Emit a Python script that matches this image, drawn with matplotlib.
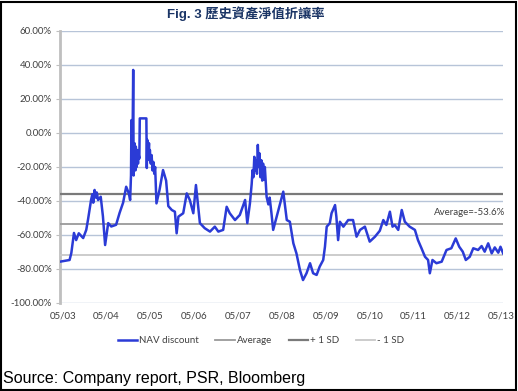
import matplotlib.pyplot as plt
from matplotlib.patches import Rectangle

# NAV discount (%), x in decimal years
years = [2003.27, 2003.49, 2003.53, 2003.59, 2003.64, 2003.70, 2003.80, 2003.87,
         2003.91, 2003.98, 2004.01, 2004.03, 2004.06, 2004.09, 2004.11, 2004.14,
         2004.20, 2004.25, 2004.30, 2004.37,
         2004.44, 2004.55, 2004.63, 2004.71, 2004.78, 2004.84, 2004.87, 2004.89,
         2004.90, 2004.92, 2004.94, 2004.95, 2004.97, 2004.99, 2005.00, 2005.02,
         2005.03, 2005.05, 2005.06, 2005.08, 2005.09, 2005.24, 2005.25, 2005.26,
         2005.28, 2005.30, 2005.31, 2005.32, 2005.34, 2005.36, 2005.38, 2005.40,
         2005.42, 2005.44, 2005.47, 2005.54, 2005.62, 2005.69, 2005.74,
         2005.82, 2005.89, 2005.93, 2005.97, 2006.08, 2006.16, 2006.23, 2006.31,
         2006.37, 2006.42, 2006.46, 2006.57, 2006.69, 2006.80, 2006.88, 2006.99,
         2007.07, 2007.14, 2007.26, 2007.37, 2007.49, 2007.54, 2007.60, 2007.64,
         2007.66, 2007.68, 2007.70, 2007.72, 2007.74, 2007.76, 2007.78, 2007.80,
         2007.82, 2007.84, 2007.86, 2007.88, 2007.90, 2007.92, 2007.94, 2007.98,
         2008.02, 2008.05, 2008.09, 2008.13,
         2008.21, 2008.28, 2008.36, 2008.44, 2008.51, 2008.59, 2008.66, 2008.74,
         2008.81, 2008.89, 2008.97, 2009.04, 2009.12, 2009.19, 2009.27, 2009.31,
         2009.35, 2009.42, 2009.46, 2009.54, 2009.57, 2009.61, 2009.65, 2009.73,
         2009.84, 2009.95, 2010.03, 2010.11, 2010.22, 2010.33, 2010.45, 2010.56,
         2010.64, 2010.71, 2010.79, 2010.85, 2010.90, 2010.98, 2011.06, 2011.13,
         2011.24, 2011.36, 2011.43, 2011.51, 2011.59, 2011.66, 2011.70, 2011.76,
         2011.85, 2011.97, 2012.08, 2012.19, 2012.29, 2012.37, 2012.45, 2012.52,
         2012.61, 2012.69, 2012.80, 2012.88, 2012.95, 2013.03, 2013.11, 2013.18,
         2013.26, 2013.31, 2013.37]
nav_discount = [-75.7, -74.7, -70.6, -58.8, -63.0, -59.0, -61.8, -57.0,
                -51.0, -39.4, -36.0, -41.0, -33.5, -38.0, -35.0, -39.4,
                -37.5, -49.0, -65.9, -53.0,
                -55.0, -54.0, -47.0, -41.0, -31.6, -35.5, -39.4, -25.0,
                7.6, -20.0, 37.1, -25.0, -6.0, -22.0, -8.0, -20.0,
                -10.0, -18.0, -12.0, -15.0, 8.6, 8.6, -20.6, -4.0,
                -14.0, -6.0, -16.0, -10.0, -18.0, -13.0, -22.0, -17.0,
                -24.0, -20.0, -41.4, -33.5, -21.8, -28.0, -43.0,
                -45.3, -46.3, -59.0, -49.2, -47.2, -35.5, -39.4, -47.2,
                -30.6, -43.4, -53.0, -56.0, -58.0, -55.1, -58.0, -57.0,
                -43.4, -47.2, -51.2, -48.2, -39.4, -53.0, -41.4, -30.0,
                -21.8, -26.0, -14.0, -22.0, -16.0, -24.0, -7.0, -20.0,
                -12.0, -26.0, -16.0, -28.0, -18.0, -27.6, -20.0, -37.5,
                -42.0, -38.0, -47.0, -57.0,
                -49.2, -42.4, -34.5, -51.2, -52.2, -64.9, -70.8, -80.6,
                -86.5, -82.5, -76.6, -82.5, -83.5, -78.6, -74.7, -66.9,
                -55.1, -53.1, -47.2, -42.4, -49.2, -63.0, -52.2, -55.1,
                -51.2, -51.2, -61.0, -57.0, -55.1, -63.9, -61.0, -57.5,
                -51.2, -54.1, -46.3, -55.1, -54.1, -57.0, -45.3, -52.2,
                -55.1, -57.0, -63.0, -67.8, -72.8, -74.7, -82.5, -74.7,
                -76.6, -75.7, -68.8, -67.8, -62.0, -66.9, -69.8, -74.7,
                -72.8, -67.8, -68.8, -66.5, -69.8, -64.9, -70.8, -67.3,
                -70.4, -66.9, -70.8]

average = -53.6
plus_1sd = -35.6
minus_1sd = -71.6

tick_years = [2003 + 4 / 12 + i for i in range(11)]
tick_labels = ['05/%02d' % (3 + i) for i in range(11)]
y_ticks = list(range(-100, 61, 20))

plt.rcParams['font.family'] = ['Lato', 'DejaVu Sans']

fig = plt.figure(figsize=(5.18, 3.91), dpi=100)
ax = fig.add_axes([60 / 518, 1 - 303 / 391, 443 / 518, 272 / 391])

x0 = tick_years[0] - 2.7 / 43.9
x1 = tick_years[-1] + 1.5 / 43.9
ax.set_xlim(x0, x1)
ax.set_ylim(-100, 60)

for v in y_ticks:
    ax.axhline(v, color='#B7C4D8', lw=1, zorder=1)

ax.plot(years, nav_discount, color='#2B3BD6', lw=1.8, zorder=4, label='NAV discount')
ax.axhline(average, color='#9A9A9A', lw=1.3, zorder=3, label='Average')
ax.axhline(plus_1sd, color='#7A7A7A', lw=1.6, zorder=3, label='+ 1 SD')
ax.axhline(minus_1sd, color='#C8C8C8', lw=1.3, zorder=3, label='- 1 SD')

ax.text(x1 + 0.05, average + 4, 'Average=-53.6%', ha='right', va='bottom',
        fontsize=7, color='#404040', zorder=5)

ax.set_yticks(y_ticks)
ax.set_yticklabels(['%.2f%%' % v for v in y_ticks], fontsize=7, color='#404040')
ax.set_xticks(tick_years)
ax.set_xticklabels(tick_labels, fontsize=7, color='#404040')
ax.tick_params(axis='y', length=3, color='#BFBFBF', pad=3)
ax.tick_params(axis='x', length=0, pad=6)

for s in ['top', 'right', 'bottom']:
    ax.spines[s].set_visible(False)
ax.spines['left'].set_color('#BFBFBF')
ax.spines['left'].set_linewidth(2)

ax.legend(loc='upper center', bbox_to_anchor=(201 / 443, -0.09), ncol=4,
          frameon=False, fontsize=7, handlelength=2.0, handletextpad=0.2,
          columnspacing=1.7, labelcolor='#404040')

fig.text(246 / 518, 1 - 14 / 391, 'Fig. 3 歷史資產淨值折讓率', ha='center', va='center',
         fontsize=9.5, fontweight='bold', color='#1B3566',
         family=['Liberation Sans', 'Noto Sans CJK TC'])
fig.text(3 / 518, 1 - 378 / 391, 'Source: Company report, PSR, Bloomberg',
         ha='left', va='center', fontsize=11.5, color='black', family='Liberation Sans')

fig.patches.append(Rectangle((0.002, 0.002), 0.994, 0.994, transform=fig.transFigure,
                             fill=False, edgecolor='black', lw=1.5))

fig.savefig('out.png', dpi=100)
